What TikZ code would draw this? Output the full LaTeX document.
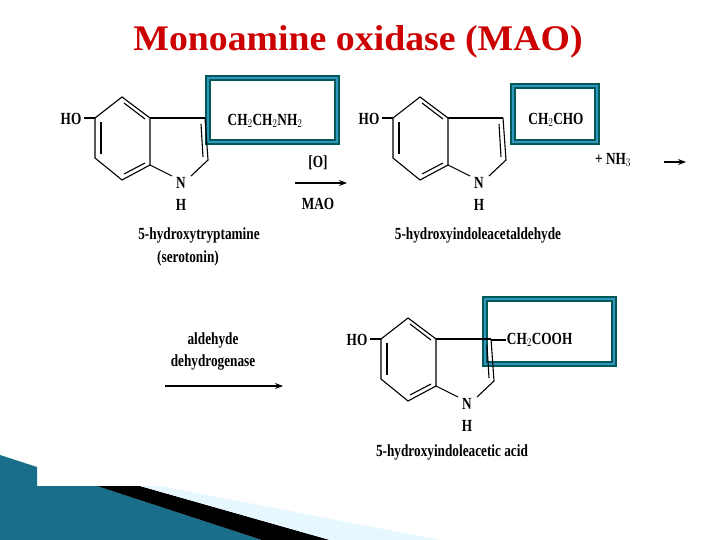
\documentclass[tikz,border=0pt]{standalone}
\usepackage{fontspec}
\setmainfont{Liberation Serif}
\usetikzlibrary{arrows.meta}
\begin{document}
\begin{tikzpicture}[x=1pt,y=-1pt,
  bond/.style={line width=1.1pt,black},
  lbl/.style={font=\fontsize{17}{18}\selectfont\bfseries,inner sep=1pt,xscale=0.78},
  hl/.style={draw=teal!70!black,line width=6pt},
  hlin/.style={draw=cyan!50!teal,line width=1.5pt},
  rx/.style={-{Stealth[length=8pt,width=6pt]},line width=1.2pt}]
\useasboundingbox (0,0) rectangle (720,540);
\fill[white] (0,0) rectangle (720,540);
\definecolor{tealA}{RGB}{25,110,140}
% decoration
\fill[tealA] (0,455) -- (37,467) -- (37,486) -- (97,486) -- (262,540) -- (0,540) -- cycle;
\fill[black] (97,486) -- (140,486) -- (330,540) -- (262,540) -- cycle;
\fill[cyan!10!white] (140,486) -- (160,486) -- (440,540) -- (330,540) -- cycle;
\node[font=\fontsize{36}{38}\selectfont\bfseries,text=red!80!black,xscale=1.05] (title) at (358,42) {Monoamine oxidase (MAO)};
% highlight boxes
\foreach \a/\b/\c/\d in {205/75/340/145, 510/83/600/145, 482/296/617/367}{
  \draw[hl] (\a+3,\b+3) rectangle (\c-3,\d-3);
  \draw[hlin] (\a+3,\b+3) rectangle (\c-3,\d-3);
}
% indole rings
\foreach \dx/\dy/\nm in {0/0/a, 298/0/b, 286/221/c}{
\begin{scope}[shift={(\dx,\dy)}]
  \draw[bond] (122,97) -- (150,118) -- (150,165) -- (122,180) -- (95,158) -- (95,118) -- cycle;
  \draw[bond] (101,122) -- (101,154);
  \draw[bond] (124,103) -- (145,119);
  \draw[bond] (124,174) -- (145,163);
  \draw[bond] (150,118) -- (205,118);
  \draw[bond] (205,118) -- (208,160) -- (191,176);
  \draw[bond] (201,124) -- (203,157);
  \draw[bond] (150,165) -- (172,176);
  \draw[bond] (95,118) -- (84,118);
  \node[lbl] (ho\nm) at (71,119) {HO};
  \node[lbl] (n\nm) at (181,183) {N};
  \node[lbl] (h\nm) at (181,205) {H};
\end{scope}}
\node[lbl] (s1) at (265,121) {CH$_2$CH$_2$NH$_2$};
\node[lbl] (s2) at (556,120) {CH$_2$CHO};
\draw[bond] (491,340) -- (506,340);
\node[lbl,anchor=west] (s3) at (506,340) {CH$_2$COOH};
\node[lbl] (nh3) at (613,160) {+\ NH$_3$};
\coordinate (e1) at (664,162); \coordinate (e2) at (686,162);
\draw[rx] (e1) -- (e2);
\node[lbl] (ox) at (318,163) {[O]};
\node[lbl] (mao) at (318,204) {MAO};
\coordinate (a1) at (295,183); \coordinate (a2) at (347,183);
\draw[rx] (a1) -- (a2);
\node[lbl] (ald) at (213,340) {aldehyde};
\node[lbl] (deh) at (213,362) {dehydrogenase};
\coordinate (b1) at (165,386); \coordinate (b2) at (283,386);
\draw[rx] (b1) -- (b2);
\node[lbl] (l1) at (199,235) {5-hydroxytryptamine};
\node[lbl] (l1b) at (188,258) {(serotonin)};
\node[lbl] (l2) at (478,235) {5-hydroxyindoleacetaldehyde};
\node[lbl] (l3) at (452,452) {5-hydroxyindoleacetic acid};
\end{tikzpicture}
\end{document}
